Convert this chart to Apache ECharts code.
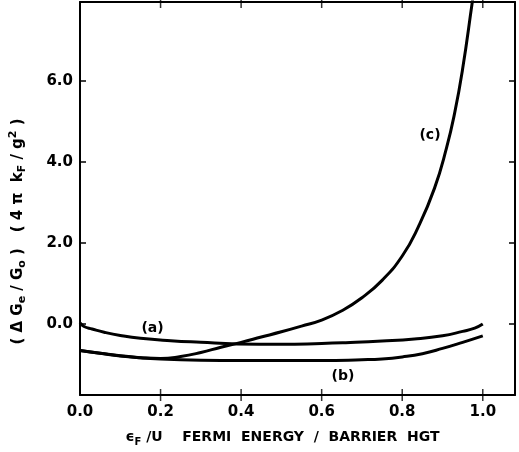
<!DOCTYPE html>
<html>
<head>
<meta charset="utf-8">
<script src="https://cdn.jsdelivr.net/npm/echarts@6/dist/echarts.min.js"></script>
<style>
  html, body { margin: 0; padding: 0; background: #fff; }
  #chart { width: 519px; height: 452px; }
</style>
</head>
<body>
<div id="chart"></div>
<script>
// values: [eF/U, dGe/G0 * 4pi kF/g^2]
var curveA = [
  [0.0, 0.03], [0.01, -0.06], [0.03, -0.12], [0.06, -0.2], [0.1, -0.28],
  [0.15, -0.35], [0.225, -0.41], [0.3, -0.45], [0.39, -0.49], [0.5, -0.5],
  [0.6, -0.48], [0.66, -0.46], [0.75, -0.42], [0.83, -0.37], [0.9, -0.29],
  [0.95, -0.18], [0.98, -0.1], [1.0, 0.0]
];
var curveB = [
  [0.0, -0.65], [0.05, -0.72], [0.1, -0.78], [0.15, -0.83], [0.2, -0.86],
  [0.3, -0.89], [0.4, -0.9], [0.5, -0.9], [0.6, -0.9], [0.7, -0.88],
  [0.75, -0.86], [0.8, -0.81], [0.85, -0.73], [0.9, -0.6], [0.95, -0.45],
  [1.0, -0.29]
];
var curveC = [
  [0.0, -0.65], [0.05, -0.72], [0.1, -0.79], [0.15, -0.83], [0.2, -0.85],
  [0.25, -0.8], [0.3, -0.7], [0.35, -0.57], [0.4, -0.45], [0.45, -0.32],
  [0.5, -0.19], [0.55, -0.05], [0.6, 0.1], [0.65, 0.33], [0.7, 0.65],
  [0.75, 1.08], [0.8, 1.68], [0.84, 2.4], [0.88, 3.35], [0.91, 4.35],
  [0.93, 5.2], [0.95, 6.3], [0.974, 7.95], [0.985, 8.7]
];
var xTicks = [0, 0.2, 0.4, 0.6, 0.8, 1.0];
var yTicks = [0, 2, 4, 6];
var curveLabels = [['(a)', 0.18, -0.1], ['(b)', 0.653, -1.3], ['(c)', 0.869, 4.66]];

var xMin = 0, xMax = 1.08, yMin = -1.75, yMax = 7.95;
var font = 'DejaVu Sans';
var myChart = echarts.init(document.getElementById('chart'));

function lineSeries(data, lab) {
  return {
    type: 'line',
    data: data,
    smooth: 0.5,
    showSymbol: false,
    lineStyle: { color: '#000', width: 3 },
    markPoint: {
      symbol: 'circle',
      symbolSize: 0,
      label: {
        show: true, position: 'inside', formatter: lab[0],
        color: '#000', fontFamily: font, fontWeight: 'bold', fontSize: 14
      },
      data: [{ coord: [lab[1], lab[2]] }]
    }
  };
}

function axisLine() {
  return { show: true, onZero: false, lineStyle: { color: '#000', width: 2 } };
}
function ticks(vals) {
  return { show: true, inside: false, length: -6, customValues: vals, lineStyle: { color: '#000', width: 1.5 } };
}

// x ticks on bottom and top edges: small bars centred on the edge, clipped to the plot
var xTickMarks = [];
xTicks.forEach(function (v) {
  if (v > xMin) {
    xTickMarks.push([v, yMin]);
    xTickMarks.push([v, yMax]);
  }
});

var option = {
  animation: false,
  grid: { left: 79, right: 4, top: 2, bottom: 54 },
  xAxis: [
    {
      type: 'value', min: xMin, max: xMax,
      axisLine: axisLine(),
      axisTick: { show: false },
      axisLabel: {
        customValues: xTicks, margin: 10,
        color: '#000', fontFamily: font, fontWeight: 'bold', fontSize: 15,
        formatter: function (v) { return v.toFixed(1); }
      },
      splitLine: { show: false },
      name: '{n|ϵ}{s|F}{n| /U    FERMI  ENERGY  /  BARRIER  HGT}',
      nameLocation: 'middle', nameGap: 32,
      nameTextStyle: {
        padding: [0, 30, 0, 0],
        rich: {
          n: { color: '#000', fontFamily: font, fontWeight: 'bold', fontSize: 14, lineHeight: 20 },
          s: { color: '#000', fontFamily: font, fontWeight: 'bold', fontSize: 10, lineHeight: 12, verticalAlign: 'bottom' }
        }
      }
    },
    {
      type: 'value', min: xMin, max: xMax, position: 'top',
      axisLine: axisLine(),
      axisTick: { show: false },
      axisLabel: { show: false },
      splitLine: { show: false }
    }
  ],
  yAxis: [
    {
      type: 'value', min: yMin, max: yMax,
      axisLine: axisLine(),
      axisTick: ticks(yTicks),
      axisLabel: {
        customValues: yTicks, margin: 7,
        color: '#000', fontFamily: font, fontWeight: 'bold', fontSize: 15,
        formatter: function (v) { return v.toFixed(1); }
      },
      splitLine: { show: false },
      name: '{n|( Δ G}{s|e}{n| / G}{s|o}{n| )   ( 4 π  k}{s|F}{n| / g}{p|2}{n| )}',
      nameLocation: 'middle', nameRotate: 90, nameGap: 52,
      nameTextStyle: {
        padding: [0, 66, 0, 0],
        rich: {
          n: { color: '#000', fontFamily: font, fontWeight: 'bold', fontSize: 15, lineHeight: 20 },
          s: { color: '#000', fontFamily: font, fontWeight: 'bold', fontSize: 11, lineHeight: 12, verticalAlign: 'bottom' },
          p: { color: '#000', fontFamily: font, fontWeight: 'bold', fontSize: 11, lineHeight: 12, verticalAlign: 'top' }
        }
      }
    },
    {
      type: 'value', min: yMin, max: yMax, position: 'right',
      axisLine: axisLine(),
      axisTick: ticks(yTicks),
      axisLabel: { show: false },
      splitLine: { show: false }
    }
  ],
  series: [
    lineSeries(curveA, curveLabels[0]),
    lineSeries(curveB, curveLabels[1]),
    lineSeries(curveC, curveLabels[2]),
    {
      type: 'scatter',
      data: xTickMarks,
      symbol: 'rect',
      symbolSize: [1.5, 12],
      itemStyle: { color: '#000' },
      clip: true,
      silent: true
    }
  ]
};

myChart.setOption(option);
</script>
</body>
</html>
